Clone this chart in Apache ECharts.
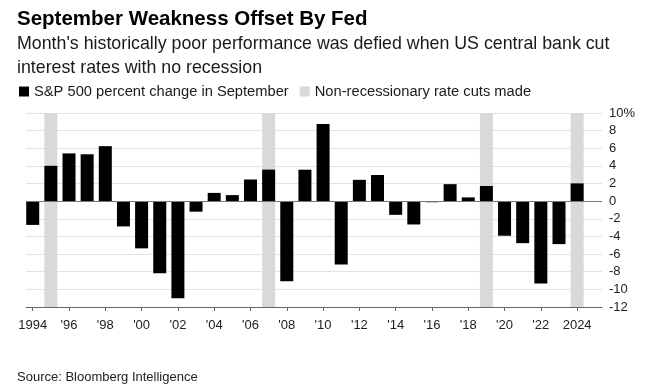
<!DOCTYPE html>
<html>
<head>
<meta charset="utf-8">
<script src="https://cdn.jsdelivr.net/npm/echarts@6/dist/echarts.min.js"></script>
<style>
html,body{margin:0;padding:0;background:#fff;}
#chart{width:659px;height:391px;}
</style>
</head>
<body>
<div id="chart"></div>
<script>
var titleText = "September Weakness Offset By Fed";
var subtitleText = "Month's historically poor performance was defied when US central bank cut\ninterest rates with no recession";
var sourceText = "Source: Bloomberg Intelligence";
var seriesNameSP = "S&P 500 percent change in September";
var seriesNameCut = "Non-recessionary rate cuts made";

var years = [1994,1995,1996,1997,1998,1999,2000,2001,2002,2003,2004,2005,2006,2007,2008,2009,2010,2011,2012,2013,2014,2015,2016,2017,2018,2019,2020,2021,2022,2023,2024];
var septChange = [-2.69,4.01,5.42,5.32,6.24,-2.86,-5.35,-8.17,-11.0,-1.19,0.94,0.69,2.46,3.58,-9.08,3.57,8.76,-7.18,2.42,2.97,-1.55,-2.64,-0.12,1.93,0.43,1.72,-3.92,-4.76,-9.34,-4.87,2.02];
var cutYears = [1995,2007,2019,2024];
var xTickYears = [1994,1996,1998,2000,2002,2004,2006,2008,2010,2012,2014,2016,2018,2020,2022,2024];
var yMin = -12, yMax = 10, yStep = 2;

var FONT = "Liberation Sans, Arial, Helvetica, sans-serif";

function xLabel(v) {
  if (v === xTickYears[0] || v === xTickYears[xTickYears.length - 1]) return String(v);
  return "'" + String(v).slice(2);
}

var chart = echarts.init(document.getElementById('chart'), null, {renderer: 'canvas'});
var option = {
  animation: false,
  backgroundColor: '#fff',
  textStyle: {fontFamily: FONT},
  title: [
    {text: titleText, left: 17, top: 9, padding: 0,
     textStyle: {fontFamily: FONT, fontSize: 20.5, fontWeight: 'bold', color: '#000', lineHeight: 20}},
    {text: subtitleText, left: 17, top: 32, padding: 0,
     textStyle: {fontFamily: FONT, fontSize: 17.8, fontWeight: 'normal', color: '#1a1a1a', lineHeight: 24}},
    {text: sourceText, left: 17, top: 369, padding: 0,
     textStyle: {fontFamily: FONT, fontSize: 13, fontWeight: 'normal', color: '#222', lineHeight: 16}}
  ],
  legend: {
    data: [seriesNameSP, seriesNameCut],
    left: 19, top: 84, padding: 0, itemGap: 11,
    itemWidth: 10, itemHeight: 10, icon: 'rect',
    selectedMode: false,
    textStyle: {fontFamily: FONT, fontSize: 14.7, color: '#1a1a1a'}
  },
  grid: {left: 26, right: 57, top: 113, bottom: 84, containLabel: false},
  xAxis: {
    type: 'value',
    min: 1993.63, max: 2025.37,
    axisLine: {show: true, onZero: false, lineStyle: {color: '#666', width: 1}},
    axisTick: {show: true, customValues: xTickYears, length: 4, lineStyle: {color: '#666'}},
    axisLabel: {customValues: xTickYears, formatter: xLabel, fontFamily: FONT, fontSize: 13, color: '#222', margin: 12},
    splitLine: {show: false}
  },
  yAxis: {
    type: 'value', position: 'right',
    min: yMin, max: yMax, interval: yStep,
    axisLine: {show: false}, axisTick: {show: false},
    axisLabel: {margin: 7, fontFamily: FONT, fontSize: 13, color: '#222',
      formatter: function (v) { return v === yMax ? v + '%' : String(v); }},
    splitLine: {show: true, lineStyle: {color: '#e3e3e3', width: 1}}
  },
  series: [
    {name: seriesNameCut, type: 'bar', stack: 'cut', barWidth: 13, barGap: '-100%',
     itemStyle: {color: '#d9d9d9'}, silent: true,
     data: cutYears.map(function (y) { return [y, yMax]; })},
    {name: seriesNameCut, type: 'bar', stack: 'cut', barWidth: 13, barGap: '-100%',
     itemStyle: {color: '#d9d9d9'}, silent: true,
     data: cutYears.map(function (y) { return [y, yMin]; })},
    {name: seriesNameSP, type: 'bar', barWidth: 13, barGap: '-100%',
     itemStyle: {color: '#000'},
     data: years.map(function (y, i) { return [y, septChange[i]]; }),
     markLine: {silent: true, symbol: 'none', label: {show: false},
       lineStyle: {color: '#777', width: 1, type: 'solid'},
       data: [{yAxis: 0}]}}
  ]
};
chart.setOption(option);
</script>
</body>
</html>
